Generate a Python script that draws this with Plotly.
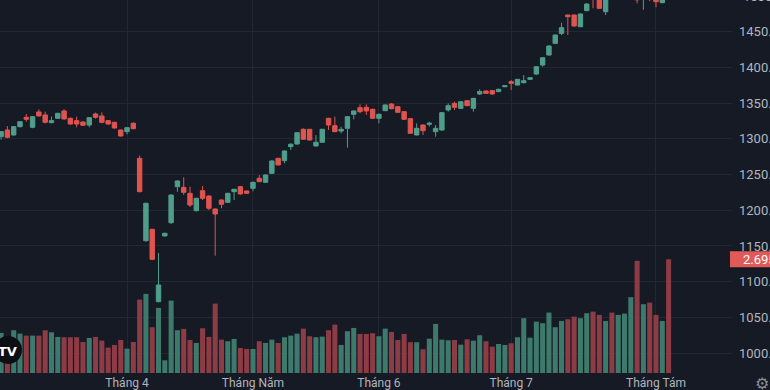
import plotly.graph_objects as go

# ---------------- data ----------------
month_labels = ["Tháng 3", "Tháng 4", "Tháng Năm", "Tháng 6", "Tháng 7", "Tháng Tám"]
month_start_idx = [0, 21, 41, 61, 82, 105]
price_ticks = [1000, 1050, 1100, 1150, 1200, 1250, 1300, 1350, 1400, 1450, 1500]

open_ = [1296, 1303.2, 1312.5, 1305.5, 1317.2, 1330.3, 1316.3, 1337.8, 1333.6, 1322.8,
         1328.9, 1339.2, 1328.9, 1325.6, 1323.7, 1319.5, 1335.0, 1332.2, 1325.6, 1323.3,
         1312.5, 1310.2, 1321.9, 1272.8, 1157.4, 1173.3, 1071.9, 1164.0, 1182.6, 1233.1,
         1232.2, 1223.8, 1199.4, 1227.5, 1220.0, 1201.8, 1214.4, 1211.2, 1226.1, 1233.1,
         1227.0, 1230.8, 1244.8, 1239.2, 1251.8, 1272.8, 1269.6, 1289.2, 1292.9, 1313.5,
         1313.5, 1290.1, 1295.3, 1328.9, 1318.6, 1311.1, 1314.9, 1334.5, 1343.8, 1344.3,
         1341.5, 1328.9, 1339.6, 1349.0, 1345.2, 1338.2, 1328.4, 1305.5, 1319.5, 1320.5,
         1310.2, 1312.5, 1340.6, 1349.9, 1342.9, 1353.6, 1342.9, 1363.0, 1367.2, 1367.7,
         1366.3, 1373.2, 1380.2, 1375.5, 1378.8, 1383.5, 1390.9, 1403.6, 1417.6, 1433.9,
         1447.9, 1473.7, 1473.7, 1457.3, 1479.8, 1508, 1502, 1478.3, 1512, 1505,
         1516, 1525, 1540, 1498, 1510, 1505, 1491, 1515]
high = [1306, 1311, 1318.1, 1318, 1325, 1335, 1332, 1341.5, 1338.2, 1331.2,
        1336.5, 1341.5, 1330, 1331.2, 1325, 1330.5, 1336.8, 1337.3, 1326.5, 1324,
        1313, 1316.5, 1323.3, 1276.6, 1210.5, 1174, 1140.2, 1168.5, 1222, 1242,
        1246.2, 1233.1, 1217.5, 1234, 1221, 1202.5, 1215, 1224.5, 1230, 1234,
        1228, 1240, 1249.5, 1250.5, 1270, 1273.5, 1284, 1293.9, 1309.5, 1314.9,
        1314, 1305.5, 1314, 1329.5, 1331.2, 1317.2, 1332, 1340, 1348.5, 1348.5,
        1342.5, 1335.5, 1348.5, 1350, 1346, 1339, 1329, 1321.9, 1320.5, 1324.2,
        1319.5, 1337.5, 1349.9, 1352.2, 1353, 1354.5, 1357.5, 1369.5, 1368, 1368.5,
        1370.5, 1375.5, 1382.5, 1384, 1389.5, 1386.5, 1402, 1414.5, 1431, 1446.5,
        1462.9, 1474, 1474.5, 1476, 1490, 1510, 1505, 1503, 1516, 1520,
        1530, 1545, 1545, 1515, 1512, 1508, 1504, 1520]
low = [1293, 1299, 1301, 1305, 1316, 1324.2, 1315, 1331.5, 1321.9, 1322,
       1328, 1327, 1320, 1316.3, 1318, 1316.3, 1328.4, 1321.9, 1320, 1314.5,
       1303.5, 1306.5, 1313.5, 1225, 1156, 1130, 1071, 1163.5, 1181, 1226,
       1221.4, 1204.6, 1198.5, 1214.4, 1200.4, 1136.4, 1202.8, 1210.5, 1214.4, 1222,
       1223, 1226.6, 1239.5, 1238.5, 1251, 1263, 1265.8, 1284.5, 1292, 1299,
       1298, 1289.5, 1294.5, 1312.5, 1309.5, 1307.9, 1287.8, 1327.5, 1335.9, 1333.6,
       1328, 1321.9, 1339, 1341.5, 1336.5, 1326.5, 1307, 1305, 1305.5, 1317.2,
       1303.2, 1311.5, 1338.2, 1340.6, 1342, 1346, 1338.2, 1361.6, 1363, 1361.6,
       1365.5, 1372.5, 1368.6, 1375, 1377.9, 1382.5, 1390, 1401.2, 1417, 1433,
       1445.6, 1445.6, 1457.5, 1456.5, 1479, 1483, 1482, 1473.7, 1500, 1502,
       1512, 1520, 1490, 1481, 1493, 1484.5, 1490, 1499]
close = [1303, 1310.2, 1302.3, 1317.2, 1324.2, 1327.5, 1331.2, 1332.2, 1323.3, 1325.6,
         1335.9, 1328.0, 1320.9, 1320.9, 1319.1, 1329.8, 1330.3, 1323.3, 1320.9, 1315.3,
         1304.1, 1315.8, 1314.4, 1226.1, 1209.8, 1131.3, 1095.3, 1167.8, 1221.4, 1241.1,
         1225.2, 1207.4, 1216.8, 1216.8, 1202.8, 1194.8, 1208.4, 1223.8, 1229.4, 1222.9,
         1223.8, 1239.2, 1240.1, 1249.5, 1269.1, 1263.5, 1283.1, 1292.5, 1308.8, 1299.5,
         1298.5, 1295.3, 1313.5, 1319.5, 1310.2, 1313.5, 1331.2, 1339.2, 1338.2, 1339.2,
         1328.9, 1334.5, 1347.6, 1342.4, 1337.3, 1327.5, 1307.9, 1314.9, 1311.6, 1321.9,
         1314.9, 1336.8, 1346.6, 1344.3, 1352.2, 1346.6, 1356.9, 1366.3, 1363.9, 1363.0,
         1369.5, 1374.6, 1378.0, 1383.5, 1381.6, 1385.8, 1401.2, 1413.8, 1430.2, 1445.6,
         1455.9, 1471.3, 1458.2, 1475.1, 1489.1, 1497, 1483.0, 1500, 1505, 1515,
         1525, 1540, 1495, 1508, 1500, 1492.3, 1500, 1505]
volume_m = [831, 950, 831, 1014, 933, 886, 886, 886, 1014, 966,
            855, 848, 848, 848, 736, 831, 855, 767, 601, 665,
            783, 577, 736, 1740, 1875, 1085, 1543, 301, 1716, 1014,
            1045, 783, 712, 1061, 855, 1645, 791, 753, 807, 594,
            570, 570, 753, 712, 791, 712, 848, 886, 933, 1052,
            871, 848, 862, 1014, 1147, 665, 990, 1068, 926, 926,
            942, 871, 1052, 973, 783, 926, 729, 729, 563, 814,
            1163, 791, 776, 783, 672, 800, 767, 895, 753, 624,
            688, 665, 705, 848, 1299, 838, 1218, 1180, 1432, 1085,
            1234, 1275, 1337, 1299, 1417, 1455, 1377, 1234, 1432, 1377,
            1408, 1797, 2659, 1631, 1669, 1377, 1234, 2695]

# ---------------- styling ----------------
BG = "#161a25"
GRID = "#232734"
TXT = "#b2b5be"
UP = "#4f9e8b"
DOWN = "#e0544f"
VUP = "#3d7a6c"
VDOWN = "#8d3c45"
FONT = "Roboto"

W, H = 770, 390
PLOT_R = 732          # right edge of the pane (px)
PLOT_B = 373          # bottom edge of the pane (px)
X_RANGE = [0.826, 117.07]
PRICE_RANGE = [971.97, 1494.7]
VOL_TOP = 8841

x = list(range(len(open_)))
vol_colors = [VUP if c >= o else VDOWN for o, c in zip(open_, close)]

fig = go.Figure()
fig.add_trace(go.Bar(
    x=x, y=volume_m, marker=dict(color=vol_colors, line=dict(width=0)),
    xaxis="x", yaxis="y", hoverinfo="skip", showlegend=False))
fig.add_trace(go.Candlestick(
    x=x, open=open_, high=high, low=low, close=close,
    xaxis="x", yaxis="y2", whiskerwidth=0, showlegend=False,
    increasing=dict(line=dict(color=UP, width=1), fillcolor=UP),
    decreasing=dict(line=dict(color=DOWN, width=1), fillcolor=DOWN)))

fig.update_layout(
    width=W, height=H,
    margin=dict(l=0, r=W - PLOT_R, t=0, b=H - PLOT_B, autoexpand=False),
    paper_bgcolor=BG, plot_bgcolor=BG,
    showlegend=False, bargap=0.2, boxgap=0.3, boxgroupgap=0,
    font=dict(family=FONT, color=TXT, size=12),
    xaxis=dict(range=X_RANGE, tickmode="array", tickvals=month_start_idx,
               ticktext=month_labels, showgrid=True, gridcolor=GRID, gridwidth=1,
               zeroline=False, showline=False, ticks="", automargin=False,
               ticklabelstandoff=1,
               tickfont=dict(family=FONT, color=TXT, size=12),
               rangeslider=dict(visible=False), fixedrange=True),
    yaxis=dict(range=[0, VOL_TOP], visible=False, showgrid=False, zeroline=False,
               domain=[0, 1], fixedrange=True, automargin=False),
    yaxis2=dict(range=PRICE_RANGE, overlaying="y", side="right", tickmode="array",
                tickvals=price_ticks, tickformat=".1f", showgrid=True,
                gridcolor=GRID, gridwidth=1, zeroline=False, showline=False,
                ticks="", ticklabelstandoff=6, automargin=False,
                tickfont=dict(family=FONT, color=TXT, size=13), fixedrange=True),
)

# partially visible top tick label
top_tick = price_ticks[-1]
fig.add_annotation(
    xref="paper", yref="paper", x=741 / PLOT_R,
    y=(top_tick - PRICE_RANGE[0]) / (PRICE_RANGE[1] - PRICE_RANGE[0]),
    text=f"{top_tick:.1f}", showarrow=False, xanchor="left", yanchor="middle",
    font=dict(family=FONT, color=TXT, size=13))

# last volume label on the price scale
last_frac = volume_m[-1] / VOL_TOP
half_h = 8 / PLOT_B
fig.add_shape(type="rect", xref="paper", yref="paper",
              x0=730 / PLOT_R, x1=790 / PLOT_R,
              y0=last_frac - half_h, y1=last_frac + half_h,
              fillcolor="#e05a58", line=dict(width=0), layer="above")
fig.add_annotation(
    xref="paper", yref="paper", x=741 / PLOT_R, y=last_frac,
    text=f"{volume_m[-1] / 1000:.3f}B", showarrow=False, xanchor="left",
    yanchor="middle", font=dict(family=FONT, color="#ffffff", size=13))

# settings gear at bottom right
fig.add_annotation(
    xref="paper", yref="paper", x=762 / PLOT_R, y=(PLOT_B - 383) / PLOT_B,
    text="⚙", showarrow=False, xanchor="center", yanchor="middle",
    font=dict(family="DejaVu Sans", color="#8a8d96", size=16))

# TradingView logo badge (bottom-left)
cx, cy, r = 8, 350, 14
fig.add_shape(type="circle", xref="paper", yref="paper",
              x0=(cx - r) / PLOT_R, x1=(cx + r) / PLOT_R,
              y0=(PLOT_B - (cy + r)) / PLOT_B, y1=(PLOT_B - (cy - r)) / PLOT_B,
              fillcolor="#0d0f14", line=dict(width=0), layer="above")
fig.add_annotation(
    xref="paper", yref="paper", x=(cx - 1) / PLOT_R, y=(PLOT_B - 351) / PLOT_B,
    text="<b>TV</b>", showarrow=False, xanchor="center", yanchor="middle",
    font=dict(family="DejaVu Sans", color="#ffffff", size=13))

fig.write_html(
    "out.html",
    config={"displayModeBar": False},
    post_script="document.body.style.margin='0';document.body.style.overflow='hidden';"
                "document.body.style.background='" + BG + "';",
)
